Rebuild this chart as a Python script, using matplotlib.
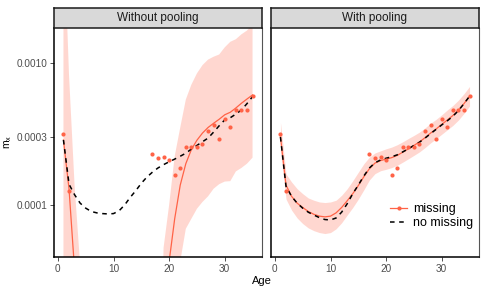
import matplotlib
matplotlib.use("Agg")
import matplotlib.pyplot as plt
from matplotlib.lines import Line2D

plt.rcParams['font.family'] = ['Liberation Sans', 'DejaVu Sans']

# --- data ---
ages = list(range(1, 36))

# observed rates (ages 3-16 are missing)
obs_age = [1, 2, 17, 18, 19, 20, 21, 22, 23, 24, 25, 26, 27, 28, 29, 30, 31, 32, 33, 34, 35]
obs_mx = [3.16e-4, 1.26e-4, 2.28e-4, 2.13e-4, 2.19e-4, 2.07e-4, 1.62e-4, 1.81e-4, 2.55e-4,
          2.56e-4, 2.56e-4, 2.69e-4, 3.3e-4, 3.67e-4, 2.89e-4, 4.02e-4, 3.55e-4, 4.67e-4,
          4.64e-4, 4.67e-4, 5.8e-4]

# without pooling
nopool_missing = [2.86e-4, 1.30e-4, 3.5e-5, 1e-6, 1e-6, 1e-6, 1e-6, 1e-6, 1e-6, 1e-6,
                  1e-6, 1e-6, 1e-6, 1e-6, 1e-6, 1e-6, 1e-6, 1e-6, 1e-6, 4.0e-5,
                  8.0e-5, 1.38e-4, 1.95e-4, 2.45e-4, 2.85e-4, 3.2e-4, 3.5e-4, 3.75e-4, 4.0e-4, 4.3e-4,
                  4.48e-4, 4.8e-4, 5.18e-4, 5.55e-4, 5.93e-4]
nopool_upper = [1.0e-2, 8.2e-4, 1.38e-4, 3.8e-5, 1e-6, 1e-6, 1e-6, 1e-6, 1e-6, 1e-6,
                1e-6, 1e-6, 1e-6, 1e-6, 1e-6, 1e-6, 1e-6, 1e-6, 5.0e-5, 1.0e-4,
                2.2e-4, 3.5e-4, 5.5e-4, 7.0e-4, 8.4e-4, 9.6e-4, 1.05e-3, 1.1e-3, 1.14e-3, 1.28e-3,
                1.40e-3, 1.46e-3, 1.58e-3, 1.68e-3, 1.85e-3]
nopool_lower = [1e-7, 1e-7, 1e-7, 1e-7, 1e-7, 1e-7, 1e-7, 1e-7, 1e-7, 1e-7,
                1e-7, 1e-7, 1e-7, 1e-7, 1e-7, 1e-7, 1e-7, 1e-7, 1e-7, 1e-7,
                1e-7, 4.0e-5, 6.8e-5, 8.0e-5, 9.4e-5, 1.05e-4, 1.15e-4, 1.3e-4, 1.4e-4, 1.46e-4,
                1.47e-4, 1.72e-4, 1.82e-4, 1.95e-4, 2.15e-4]
nopool_full = [2.86e-4, 1.4e-4, 1.18e-4, 1.03e-4, 9.5e-5, 9.0e-5, 8.8e-5, 8.7e-5, 8.65e-5, 8.7e-5,
               9.1e-5, 1.0e-4, 1.13e-4, 1.26e-4, 1.42e-4, 1.57e-4, 1.7e-4, 1.82e-4, 1.92e-4, 2.01e-4,
               2.1e-4, 2.2e-4, 2.31e-4, 2.47e-4, 2.62e-4, 2.78e-4, 2.95e-4, 3.25e-4, 3.6e-4, 3.96e-4,
               4.1e-4, 4.35e-4, 4.65e-4, 5.15e-4, 5.77e-4]

# with pooling
pool_missing = [3.0e-4, 1.38e-4, 1.15e-4, 1.03e-4, 9.6e-5, 9.0e-5, 8.6e-5, 8.35e-5, 8.25e-5, 8.35e-5,
                8.8e-5, 9.6e-5, 1.07e-4, 1.2e-4, 1.37e-4, 1.58e-4, 1.8e-4, 1.97e-4, 2.05e-4, 2.1e-4,
                2.15e-4, 2.23e-4, 2.35e-4, 2.48e-4, 2.62e-4, 2.77e-4, 2.97e-4, 3.2e-4, 3.42e-4, 3.68e-4,
                3.95e-4, 4.25e-4, 4.62e-4, 5.15e-4, 5.8e-4]
pool_upper = [3.8e-4, 1.65e-4, 1.45e-4, 1.3e-4, 1.2e-4, 1.12e-4, 1.08e-4, 1.05e-4, 1.04e-4, 1.05e-4,
              1.08e-4, 1.17e-4, 1.3e-4, 1.48e-4, 1.7e-4, 1.95e-4, 2.17e-4, 2.32e-4, 2.4e-4, 2.48e-4,
              2.55e-4, 2.65e-4, 2.78e-4, 2.93e-4, 3.08e-4, 3.25e-4, 3.48e-4, 3.75e-4, 4.0e-4, 4.3e-4,
              4.65e-4, 5.0e-4, 5.45e-4, 6.05e-4, 6.8e-4]
pool_lower = [2.4e-4, 1.1e-4, 9.2e-5, 8.1e-5, 7.4e-5, 6.9e-5, 6.6e-5, 6.4e-5, 6.3e-5, 6.4e-5,
              6.8e-5, 7.5e-5, 8.5e-5, 9.6e-5, 1.1e-4, 1.28e-4, 1.5e-4, 1.66e-4, 1.74e-4, 1.78e-4,
              1.83e-4, 1.9e-4, 2.0e-4, 2.11e-4, 2.23e-4, 2.36e-4, 2.53e-4, 2.73e-4, 2.92e-4, 3.14e-4,
              3.37e-4, 3.62e-4, 3.95e-4, 4.4e-4, 4.95e-4]
pool_full = [3.0e-4, 1.35e-4, 1.15e-4, 1.03e-4, 9.5e-5, 8.9e-5, 8.5e-5, 8.15e-5, 7.9e-5, 7.85e-5,
             8.1e-5, 8.9e-5, 1.02e-4, 1.2e-4, 1.38e-4, 1.6e-4, 1.82e-4, 1.98e-4, 2.07e-4, 2.13e-4,
             2.18e-4, 2.25e-4, 2.36e-4, 2.48e-4, 2.62e-4, 2.76e-4, 2.95e-4, 3.17e-4, 3.4e-4, 3.65e-4,
             3.9e-4, 4.2e-4, 4.6e-4, 5.15e-4, 5.8e-4]

panel_titles = ['Without pooling', 'With pooling']
yticks = [1e-4, 3e-4, 1e-3]
ytick_labels = ['0.0001', '0.0003', '0.0010']
xticks = [0, 10, 20, 30]

RED = '#FF6347'
W, H = 486, 292
fig = plt.figure(figsize=(W / 100, H / 100), dpi=100)

panels = [
    (54, nopool_missing, nopool_upper, nopool_lower, nopool_full),
    (271, pool_missing, pool_upper, pool_lower, pool_full),
]
ax_top, ax_bot = 28, 257.3
axes = []
for i, (x0, miss, up, lo, full) in enumerate(panels):
    ax = fig.add_axes([x0 / W, (H - ax_bot) / H, 208 / W, (ax_bot - ax_top) / H])
    ax.fill_between(ages, lo, up, color=RED, alpha=0.25, linewidth=0)
    ax.plot(ages, miss, color=RED, lw=0.9)
    ax.plot(ages, full, color='black', lw=1.1, linestyle=(0, (3, 3)))
    ax.plot(obs_age, obs_mx, 'o', color=RED, ms=3, mec='none')
    ax.set_yscale('log')
    ax.set_xlim(-0.7, 36.7)
    ax.set_ylim(4.29e-5, 1.75e-3)
    ax.minorticks_off()
    ax.set_xticks(xticks)
    ax.set_xticklabels([str(t) for t in xticks])
    ax.set_yticks(yticks)
    ax.tick_params(labelsize=7.2, labelcolor='#4d4d4d', length=3, width=0.6, color='#333333', pad=2)
    if i == 0:
        ax.set_yticklabels(ytick_labels)
    else:
        ax.set_yticklabels([])
        ax.tick_params(axis='y', length=0)
    ax.spines['top'].set_visible(False)
    ax.spines['left'].set_linewidth(1.1)
    ax.spines['bottom'].set_linewidth(1.1)
    ax.spines['right'].set_linewidth(0.8)
    ax.spines['right'].set_color('#555555')
    axes.append(ax)

    # facet strip
    sax = fig.add_axes([x0 / W, (H - 28) / H, 208 / W, 20 / H])
    sax.set_facecolor('#d9d9d9')
    sax.set_xticks([])
    sax.set_yticks([])
    for s in sax.spines.values():
        s.set_linewidth(1.1)
        s.set_color('#1a1a1a')
    sax.text(0.5, 0.5, panel_titles[i], ha='center', va='center', fontsize=8.5, color='#1a1a1a',
             transform=sax.transAxes)

fig.text(8 / W, (H - 142) / H, '$\\mathregular{m_x}$', rotation=90, ha='center', va='center', fontsize=7.5)
fig.text(262 / W, (H - 281) / H, 'Age', ha='center', va='center', fontsize=8)

handles = [
    Line2D([0], [0], color=RED, lw=0.9, marker='o', ms=3, mec='none'),
    Line2D([0], [0], color='black', lw=1.1, linestyle=(0, (3, 3))),
]
axes[1].legend(handles, ['missing', 'no missing'], loc='center left', bbox_to_anchor=(0.52, 0.18),
               frameon=False, fontsize=9, handlelength=1.3, handletextpad=0.5, labelspacing=0.15)

fig.savefig('out.png', dpi=100)
